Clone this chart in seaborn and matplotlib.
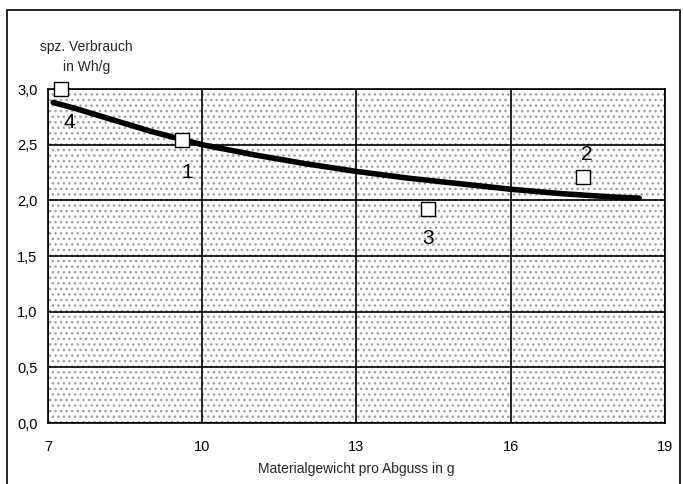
import numpy as np
import pandas as pd
import matplotlib
matplotlib.use("Agg")
import matplotlib.pyplot as plt
import seaborn as sns
from matplotlib.patches import Rectangle

# data
curve_x = [7.1, 7.5, 8.0, 8.5, 9.0, 9.5, 10.0, 10.5, 11.0, 11.5, 12.0, 12.5, 13.0,
           13.5, 14.0, 14.5, 15.0, 15.5, 16.0, 16.5, 17.0, 17.5, 18.0, 18.5]
curve_y = [2.88, 2.83, 2.76, 2.69, 2.62, 2.56, 2.50, 2.455, 2.41, 2.37, 2.33, 2.295, 2.26,
           2.23, 2.20, 2.175, 2.15, 2.125, 2.10, 2.08, 2.06, 2.045, 2.03, 2.02]

point_x = [9.6, 17.4, 14.4, 7.25]
point_y = [2.54, 2.21, 1.92, 3.0]
point_labels = ["1", "2", "3", "4"]

x_ticks = [7, 10, 13, 16, 19]
y_ticks = [0.0, 0.5, 1.0, 1.5, 2.0, 2.5, 3.0]
y_ticklabels = ["0,0", "0,5", "1,0", "1,5", "2,0", "2,5", "3,0"]

sns.set_style("white")
plt.rcParams['font.family'] = ['Liberation Sans', 'DejaVu Sans']
plt.rcParams['hatch.color'] = '#a0a0a0'
plt.rcParams['hatch.linewidth'] = 1.0

fig = plt.figure(figsize=(6.83, 4.84), dpi=100)
ax = fig.add_axes([0.0703, 0.126, 0.9033, 0.690])

# dotted background
ax.add_patch(Rectangle((0, 0), 1, 1, transform=ax.transAxes, facecolor='white',
                       edgecolor='#a0a0a0', linewidth=0, hatch='...', zorder=0))

curve = pd.DataFrame({"x": curve_x, "y": curve_y})
pts = pd.DataFrame({"x": point_x, "y": point_y, "label": point_labels})

sns.lineplot(data=curve, x="x", y="y", ax=ax, color="black", linewidth=4.0,
             zorder=3, solid_capstyle="round", solid_joinstyle="round")
sns.scatterplot(data=pts, x="x", y="y", ax=ax, marker="s", s=90, color="white",
                edgecolor="black", linewidth=1.0, zorder=5, clip_on=False)

# point numbers
offsets = {"1": (4, -23), "2": (3, 16), "3": (0, -21), "4": (6, -24)}
for _, r in pts.iterrows():
    ax.annotate(r["label"], (r["x"], r["y"]), xytext=offsets[r["label"]],
                textcoords="offset points", ha="center", va="center",
                fontsize=15, color="black", zorder=6)

ax.set_xlim(7, 19)
ax.set_ylim(0, 3)
ax.set_xticks(x_ticks)
ax.set_yticks(y_ticks)
ax.set_yticklabels(y_ticklabels)
ax.grid(True, color="black", linewidth=1.2, zorder=1)
ax.set_axisbelow(False)
for s in ax.spines.values():
    s.set_color("black")
    s.set_linewidth(1.2)
ax.tick_params(axis="both", labelsize=10.5, colors="black", direction="out",
               length=4, width=1.0)
ax.tick_params(axis="x", pad=8)
ax.set_xlabel("Materialgewicht pro Abguss in g", fontsize=10, labelpad=6)
ax.set_ylabel("")

fig.text(0.127, 0.882, "spz. Verbrauch\nin Wh/g", ha="center", va="center",
         fontsize=10, linespacing=1.6)

# outer frame
fig.add_artist(Rectangle((0.0102, -0.01), 0.985, 0.99, transform=fig.transFigure,
                         fill=False, edgecolor="black", linewidth=1.2, clip_on=False))

fig.savefig("out.png", dpi=100)
